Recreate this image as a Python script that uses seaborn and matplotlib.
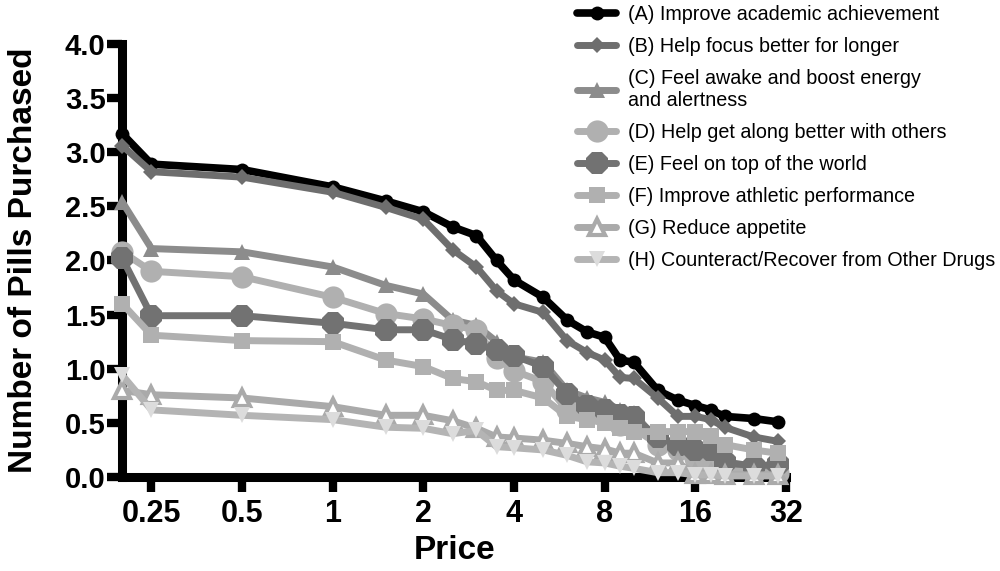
import matplotlib
matplotlib.use("Agg")
import matplotlib.pyplot as plt
import seaborn as sns
import pandas as pd
from matplotlib.ticker import FixedLocator, FixedFormatter, NullLocator

prices = [0.2, 0.25, 0.5, 1, 1.5, 2, 2.5, 3, 3.5, 4, 5, 6, 7, 8, 9, 10, 12, 14, 16, 18, 20, 25, 30]

A = [3.17, 2.89, 2.84, 2.68, 2.55, 2.45, 2.31, 2.23, 2.00, 1.82, 1.66, 1.45, 1.34, 1.29, 1.08, 1.06, 0.80, 0.71, 0.66, 0.62, 0.56, 0.54, 0.51]
B = [3.06, 2.82, 2.77, 2.63, 2.49, 2.38, 2.10, 1.94, 1.72, 1.60, 1.52, 1.26, 1.15, 1.08, 0.92, 0.91, 0.73, 0.56, 0.56, 0.53, 0.46, 0.37, 0.33]
C = [2.54, 2.11, 2.08, 1.94, 1.77, 1.69, 1.45, 1.40, 1.25, 1.11, 1.06, 0.80, 0.73, 0.69, 0.62, 0.59, 0.33, 0.30, 0.28, 0.17, 0.12, 0.10, 0.07]
D = [2.08, 1.90, 1.85, 1.66, 1.51, 1.46, 1.40, 1.36, 1.10, 0.98, 0.88, 0.62, 0.58, 0.55, 0.48, 0.45, 0.30, 0.25, 0.18, 0.10, 0.06, 0.04, 0.04]
E = [2.02, 1.49, 1.49, 1.42, 1.36, 1.36, 1.27, 1.23, 1.17, 1.12, 1.02, 0.77, 0.66, 0.62, 0.57, 0.55, 0.37, 0.30, 0.25, 0.25, 0.14, 0.10, 0.12]
F = [1.60, 1.31, 1.26, 1.25, 1.08, 1.02, 0.91, 0.88, 0.80, 0.80, 0.73, 0.56, 0.53, 0.50, 0.45, 0.42, 0.42, 0.42, 0.42, 0.38, 0.30, 0.25, 0.22]
G = [0.80, 0.76, 0.73, 0.65, 0.57, 0.57, 0.52, 0.45, 0.37, 0.36, 0.34, 0.31, 0.28, 0.26, 0.22, 0.22, 0.13, 0.13, 0.03, 0.03, 0.02, 0.02, 0.02]
H = [0.94, 0.62, 0.57, 0.53, 0.46, 0.45, 0.40, 0.43, 0.28, 0.27, 0.25, 0.20, 0.14, 0.13, 0.10, 0.08, 0.04, 0.04, 0.02, 0.02, 0.01, 0.01, 0.01]

labels = [
    "(A) Improve academic achievement",
    "(B) Help focus better for longer",
    "(C) Feel awake and boost energy\nand alertness",
    "(D) Help get along better with others",
    "(E) Feel on top of the world",
    "(F) Improve athletic performance",
    "(G) Reduce appetite",
    "(H) Counteract/Recover from Other Drugs",
]
series = [A, B, C, D, E, F, G, H]

x_ticks = [0.25, 0.5, 1, 2, 4, 8, 16, 32]
x_ticklabels = ["0.25", "0.5", "1", "2", "4", "8", "16", "32"]
y_ticks = [0.0, 0.5, 1.0, 1.5, 2.0, 2.5, 3.0, 3.5, 4.0]

styles = [
    dict(color="#000000", marker="o", ms=10, mfc="#000000", mec="#000000", mew=0, lw=5.5),
    dict(color="#6e6e6e", marker="D", ms=8, mfc="#6e6e6e", mec="#6e6e6e", mew=0, lw=5),
    dict(color="#8c8c8c", marker="^", ms=11, mfc="#8c8c8c", mec="#8c8c8c", mew=0, lw=5),
    dict(color="#b0b0b0", marker="o", ms=16, mfc="#b0b0b0", mec="#b0b0b0", mew=0, lw=5),
    dict(color="#727272", marker="8", ms=17, mfc="#727272", mec="#727272", mew=0, lw=5),
    dict(color="#b0b0b0", marker="s", ms=11, mfc="#b0b0b0", mec="#b0b0b0", mew=0, lw=5),
    dict(color="#aaaaaa", marker="^", ms=11, mfc="#ffffff", mec="#aaaaaa", mew=3, lw=5),
    dict(color="#b4b4b4", marker="v", ms=12, mfc="#dcdcdc", mec="#dcdcdc", mew=0, lw=5),
]

sns.set_style("white")
plt.rcParams["font.family"] = ["Liberation Sans", "DejaVu Sans"]
plt.rcParams["text.color"] = "black"
plt.rcParams["axes.labelcolor"] = "black"
plt.rcParams["xtick.color"] = "black"
plt.rcParams["ytick.color"] = "black"

fig = plt.figure(figsize=(10, 5.71), dpi=100)
ax = fig.add_axes([0.1223, 0.1646, 0.6637, 0.7584])

for lab, vals, st in zip(labels, series, styles):
    df = pd.DataFrame({"Price": prices, "Pills": vals})
    sns.lineplot(data=df, x="Price", y="Pills", ax=ax, color=st["color"],
                 marker=st["marker"], markersize=st["ms"], markerfacecolor=st["mfc"],
                 markeredgecolor=st["mec"], markeredgewidth=st["mew"], linewidth=st["lw"],
                 label=lab, clip_on=False)

ax.set_xscale("log", base=2)
ax.set_xlim(0.2, 32)
ax.set_ylim(0, 4)
ax.xaxis.set_major_locator(FixedLocator(x_ticks))
ax.xaxis.set_major_formatter(FixedFormatter(x_ticklabels))
ax.xaxis.set_minor_locator(NullLocator())
ax.set_yticks(y_ticks)
ax.set_yticklabels([f"{v:.1f}" for v in y_ticks])

for s in ["top", "right"]:
    ax.spines[s].set_visible(False)
for s in ["left", "bottom"]:
    ax.spines[s].set_linewidth(6.5)
    ax.spines[s].set_color("black")
    ax.spines[s].set_zorder(1)
    ax.spines[s].set_capstyle("projecting")

ax.tick_params(axis="both", which="major", direction="out", length=11, width=6,
               color="black", pad=1, bottom=True, left=True)
ax.tick_params(axis="x", pad=5)
for t in ax.get_yticklabels():
    t.set_fontsize(21)
    t.set_fontweight("bold")
for t in ax.get_xticklabels():
    t.set_fontsize(22)
    t.set_fontweight("bold")

ax.set_xlabel("Price", fontsize=24, fontweight="bold")
ax.xaxis.set_label_coords(0.5, -0.135)
ax.set_ylabel("Number of Pills Purchased", fontsize=24, fontweight="bold")
ax.yaxis.set_label_coords(-0.125, 0.5)

handles, labs = ax.get_legend_handles_labels()
ax.get_legend().remove()
leg = fig.legend(handles, labs, loc="upper left", bbox_to_anchor=(0.565, 1.012), frameon=False,
                 fontsize=14.2, handlelength=2.0, handletextpad=0.6, labelspacing=0.66,
                 borderaxespad=0.2)
for t in leg.get_texts():
    t.set_color("black")

fig.savefig("out.png", dpi=100)
